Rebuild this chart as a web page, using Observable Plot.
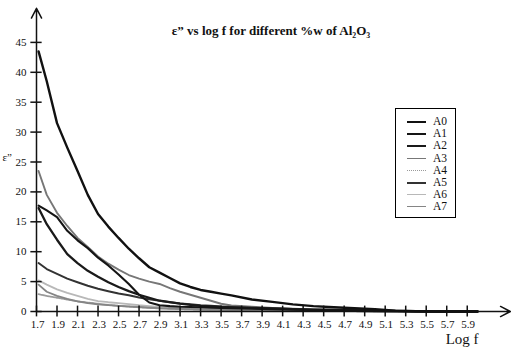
<!DOCTYPE html>
<html><head><meta charset="utf-8">
<script src="https://cdn.jsdelivr.net/npm/d3@7"></script>
<script src="https://cdn.jsdelivr.net/npm/@observablehq/plot@0.6"></script>
<style>
html,body{margin:0;padding:0;background:#fff;}
#wrap{position:relative;width:511px;height:347px;font-family:"Liberation Serif","Times New Roman",serif;}
#legend{position:absolute;left:395px;top:108px;width:61px;height:110px;border:1.5px solid #000;box-sizing:border-box;background:#fff;}
.row{position:absolute;left:0;height:12px;width:58px;}
.row .sw{position:absolute;left:11px;top:5px;width:19px;}
.row .lb{position:absolute;left:37px;top:-1px;font-size:11.5px;line-height:13px;color:#111;}
</style></head><body><div id="wrap"></div>
<script>
// ---- data ----
const logF = [1.72, 1.8, 1.9, 2.0, 2.1, 2.2, 2.3, 2.4, 2.5, 2.6, 2.7, 2.8, 2.9, 3.0, 3.1, 3.2, 3.3, 3.4, 3.5, 3.6, 3.8, 4.0, 4.2, 4.4, 4.6, 4.8, 5.0, 5.2, 5.4, 5.6, 5.8, 6.0];
const seriesNames = ["A0", "A1", "A2", "A3", "A4", "A5", "A6", "A7"];
const A0 = [43.5, 38.5, 31.5, 27.4, 23.5, 19.5, 16.3, 14.2, 12.3, 10.5, 8.9, 7.4, 6.5, 5.6, 4.7, 4.1, 3.6, 3.3, 3.0, 2.7, 2.0, 1.6, 1.2, 0.9, 0.7, 0.55, 0.4, 0.15, 0.05, 0, 0, 0];
const A1 = [17.7, 16.9, 15.8, 13.5, 11.9, 10.6, 9.0, 7.7, 6.2, 4.6, 2.8, 1.5, 1.05, 0.9, 0.8, 0.75, 0.7, 0.65, 0.6, 0.55, 0.45, 0.38, 0.3, 0.25, 0.2, 0.15, 0.1, 0.05, 0, 0, 0, 0];
const A2 = [17.3, 14.6, 12.0, 9.6, 8.1, 6.8, 5.8, 4.9, 4.1, 3.4, 2.8, 2.3, 1.8, 1.55, 1.3, 1.1, 0.95, 0.85, 0.75, 0.7, 0.6, 0.5, 0.4, 0.3, 0.25, 0.2, 0.15, 0.1, 0.05, 0, 0, 0];
const A3 = [23.5, 19.5, 16.5, 14.3, 12.3, 10.8, 9.2, 8.0, 7.0, 6.1, 5.5, 5.0, 4.6, 3.9, 3.3, 2.8, 2.3, 1.8, 1.3, 1.0, 0.8, 0.6, 0.45, 0.35, 0.3, 0.25, 0.2, 0.1, 0.05, 0, 0, 0];
const A4 = [2.9, 2.6, 2.3, 2.0, 1.7, 1.5, 1.3, 1.1, 0.95, 0.8, 0.7, 0.6, 0.5, 0.45, 0.4, 0.35, 0.3, 0.28, 0.25, 0.22, 0.2, 0.15, 0.1, 0.1, 0.05, 0.05, 0, 0, 0, 0, 0, 0];
const A5 = [8.1, 7.1, 6.3, 5.5, 4.9, 4.3, 3.8, 3.4, 3.0, 2.7, 2.35, 2.05, 1.8, 1.55, 1.35, 1.2, 1.05, 0.95, 0.85, 0.75, 0.6, 0.5, 0.4, 0.3, 0.25, 0.2, 0.15, 0.1, 0.05, 0, 0, 0];
const A6 = [5.2, 4.5, 3.7, 3.1, 2.6, 2.1, 1.75, 1.55, 1.4, 1.25, 1.05, 0.9, 0.75, 0.6, 0.5, 0.45, 0.4, 0.35, 0.3, 0.3, 0.25, 0.2, 0.15, 0.1, 0.1, 0.05, 0.05, 0, 0, 0, 0, 0];
const A7 = [4.5, 3.3, 2.6, 2.1, 1.7, 1.4, 1.2, 1.05, 0.95, 0.85, 0.75, 0.65, 0.55, 0.5, 0.45, 0.4, 0.35, 0.3, 0.3, 0.25, 0.2, 0.15, 0.1, 0.1, 0.05, 0.05, 0, 0, 0, 0, 0, 0];
const xTicks = [1.7, 1.9, 2.1, 2.3, 2.5, 2.7, 2.9, 3.1, 3.3, 3.5, 3.7, 3.9, 4.1, 4.3, 4.5, 4.7, 4.9, 5.1, 5.3, 5.5, 5.7, 5.9];
const yTicks = [0, 5, 10, 15, 20, 25, 30, 35, 40, 45];
const titleText = "ε” vs log f for different %w of Al₂O₃";
const xLabel = "Log f";
const yLabel = "ε”";

// ---- styles ----
const values = [A0, A1, A2, A3, A4, A5, A6, A7];
const styles = {
  A0: {stroke: "#111", width: 2.4, dash: null},
  A1: {stroke: "#151515", width: 2.1, dash: null},
  A2: {stroke: "#1a1a1a", width: 2.3, dash: null},
  A3: {stroke: "#777", width: 1.9, dash: null},
  A4: {stroke: "#9a9a9a", width: 1.8, dash: "2,1"},
  A5: {stroke: "#333", width: 2.0, dash: null},
  A6: {stroke: "#b8b8b8", width: 1.8, dash: null},
  A7: {stroke: "#858585", width: 1.8, dash: null}
};
const rows = [];
seriesNames.forEach((name, i) => values[i].forEach((v, j) => rows.push({series: name, x: logF[j], y: v})));

const drawOrder = ["A6", "A4", "A7", "A3", "A5", "A2", "A1", "A0"];
const lineMarks = drawOrder.map(name => Plot.line(rows.filter(r => r.series === name), {
  x: "x", y: "y", stroke: styles[name].stroke, strokeWidth: styles[name].width,
  strokeDasharray: styles[name].dash, strokeLinejoin: "round", curve: "linear"
}));

const xMin = 1.7, xArrowEnd = 6.32, yArrowEnd = 50.7;
const axes = [
  {x1: xMin, y1: 0, x2: xMin, y2: yArrowEnd},
  {x1: xMin, y1: 0, x2: xArrowEnd, y2: 0}
];

const chart = Plot.plot({
  width: 511, height: 347,
  marginLeft: 36, marginRight: 34, marginTop: 12, marginBottom: 36,
  x: {domain: [1.7, 6.0], axis: null},
  y: {domain: [0, 50], axis: null},
  style: {fontFamily: "'Liberation Serif','Times New Roman',serif", background: "white", color: "#111"},
  marks: [
    ...lineMarks,
    Plot.arrow(axes, {x1: "x1", y1: "y1", x2: "x2", y2: "y2", stroke: "#111", strokeWidth: 1.5, headLength: 11, headAngle: 55}),
    Plot.ruleX(xTicks, {x: d => d, y1: -0.9, y2: 0.9, stroke: "#111", strokeWidth: 1.5}),
    Plot.ruleY(yTicks, {y: d => d, x1: xMin - 0.055, x2: xMin + 0.055, stroke: "#111", strokeWidth: 1.5}),
    Plot.text(xTicks, {x: d => d, y: 0, dy: 13, dx: 1, text: d => d.toFixed(1), fontSize: 11, fill: "#111"}),
    Plot.text(yTicks, {x: xMin, y: d => d, dx: -10, textAnchor: "end", text: d => String(d), fontSize: 11, fill: "#111"}),
    Plot.text([xLabel], {x: 5.85, y: 0, dy: 28, text: d => d, fontSize: 15, fill: "#111"}),
    Plot.text([yLabel], {x: xMin, y: 25.8, dx: -34, textAnchor: "start", text: d => d, fontSize: 11, fill: "#111"}),
    Plot.text([titleText], {frameAnchor: "top", lineAnchor: "middle", dx: 14, dy: 18, text: d => d, fontSize: 13, fontWeight: "bold", fill: "#111"})
  ]
});
const wrap = document.getElementById("wrap");
wrap.appendChild(chart);

// legend
const legend = document.createElement("div");
legend.id = "legend";
seriesNames.forEach((name, i) => {
  const row = document.createElement("div");
  row.className = "row";
  row.style.top = (7 + i * 12.2) + "px";
  const sw = document.createElement("div");
  sw.className = "sw";
  const s = styles[name];
  sw.style.borderTop = s.width + "px " + (s.dash ? "dotted" : "solid") + " " + s.stroke;
  const lb = document.createElement("div");
  lb.className = "lb";
  lb.textContent = name;
  row.appendChild(sw); row.appendChild(lb);
  legend.appendChild(row);
});
wrap.appendChild(legend);
</script>
</body></html>
